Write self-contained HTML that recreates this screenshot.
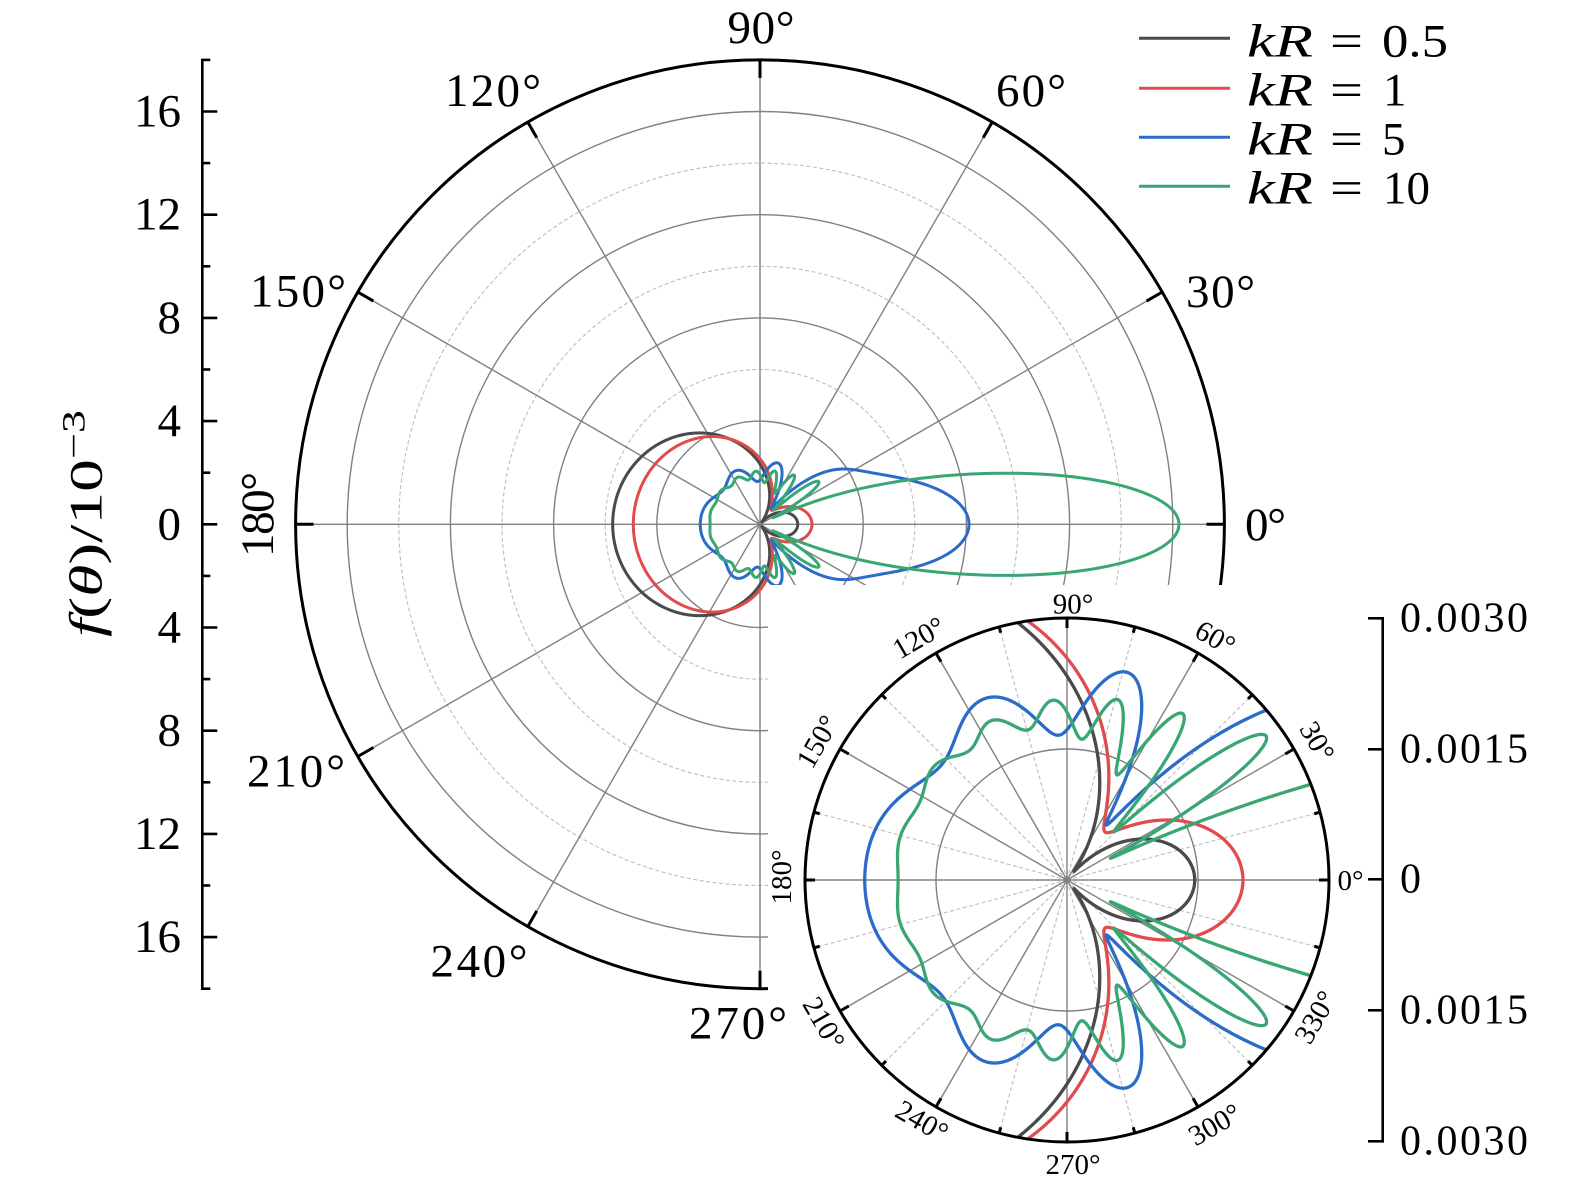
<!DOCTYPE html>
<html>
<head>
<meta charset="utf-8">
<style>
html,body{margin:0;padding:0;background:#fff;}
svg{display:block;}
text{font-family:"Liberation Serif",serif;fill:#000;}
</style>
</head>
<body>
<svg id="s" xmlns="http://www.w3.org/2000/svg" width="1575" height="1182" viewBox="0 0 1575 1182" font-family="Liberation Serif, serif">
<defs>
<clipPath id="ic"><circle cx="1067" cy="880" r="262"/></clipPath>
</defs>
<rect x="0" y="0" width="1575" height="1182" fill="#fff"/>
<g id="main"></g>
<rect x="768" y="585" width="807" height="597" fill="#fff"/>
<g id="inset"></g>

<!-- left axis -->
<g id="laxis" stroke="#000" stroke-width="2.6"></g>
<g font-size="47" text-anchor="end" dominant-baseline="central">
<text x="181" y="111.5">16</text>
<text x="181" y="214.7">12</text>
<text x="181" y="317.9">8</text>
<text x="181" y="421.1">4</text>
<text x="181" y="524.3">0</text>
<text x="181" y="627.5">4</text>
<text x="181" y="730.7">8</text>
<text x="181" y="833.9">12</text>
<text x="181" y="937.1">16</text>
</g>
<text transform="translate(101.7,523.5) rotate(-90)" font-size="47" text-anchor="middle" textLength="227" lengthAdjust="spacingAndGlyphs"><tspan font-style="italic">f</tspan>(<tspan font-style="italic">θ</tspan>)/10<tspan font-size="33" dy="-17">−3</tspan></text>

<!-- main angle labels -->
<g font-size="47" text-anchor="middle" dominant-baseline="central">
<text x="1265.5" y="525" textLength="41">0°</text>
<text x="1220.5" y="292" textLength="69">30°</text>
<text x="1031" y="91" textLength="70">60°</text>
<text x="761" y="28" textLength="67">90°</text>
<text x="493" y="91" textLength="96">120°</text>
<text x="298" y="291.5" textLength="96">150°</text>
<text x="296" y="771.5" textLength="98">210°</text>
<text x="479" y="961.5" textLength="97">240°</text>
<text x="738" y="1023.5" textLength="98">270°</text>
</g>
<text transform="translate(273,514.5) rotate(-90)" font-size="47" text-anchor="middle" textLength="85">180°</text>

<!-- inset angle labels -->
<g font-size="29" text-anchor="middle" dominant-baseline="central">
<text x="1350.5" y="881">0°</text>
<text transform="translate(1316.7,741.7) rotate(60)">30°</text>
<text transform="translate(1215,638.3) rotate(30)">60°</text>
<text x="1073" y="604.5">90°</text>
<text transform="translate(919,638.3) rotate(-30)">120°</text>
<text transform="translate(818,742) rotate(-60)">150°</text>
<text transform="translate(782,877) rotate(-90)">180°</text>
<text transform="translate(823.3,1023.3) rotate(60)">210°</text>
<text transform="translate(921.7,1121.7) rotate(30)">240°</text>
<text x="1073" y="1165">270°</text>
<text transform="translate(1215,1125) rotate(-30)">300°</text>
<text transform="translate(1316,1017.5) rotate(-60)">330°</text>
</g>

<!-- inset right axis -->
<g stroke="#000" stroke-width="2.6">
<line x1="1382.7" y1="617" x2="1382.7" y2="1142.6"/>
<line x1="1368" y1="618.3" x2="1384" y2="618.3"/>
<line x1="1368" y1="749.3" x2="1384" y2="749.3"/>
<line x1="1368" y1="879.3" x2="1384" y2="879.3"/>
<line x1="1368" y1="1010.3" x2="1384" y2="1010.3"/>
<line x1="1368" y1="1141.3" x2="1384" y2="1141.3"/>
</g>
<g font-size="42" text-anchor="start" dominant-baseline="central">
<text x="1400" y="618.3" textLength="128">0.0030</text>
<text x="1400" y="749.3" textLength="128">0.0015</text>
<text x="1400" y="879.3">0</text>
<text x="1400" y="1010.3" textLength="128">0.0015</text>
<text x="1400" y="1141.3" textLength="128">0.0030</text>
</g>

<!-- legend -->
<g stroke-width="3">
<line x1="1139" y1="38.3" x2="1230" y2="38.3" stroke="#4a4a4a"/>
<line x1="1139" y1="88.3" x2="1230" y2="88.3" stroke="#e04b4b"/>
<line x1="1139" y1="137.3" x2="1230" y2="137.3" stroke="#2a6cc8"/>
<line x1="1139" y1="186.3" x2="1230" y2="186.3" stroke="#3aa673"/>
</g>
<g font-size="47">
<text x="1247" y="56.5" font-style="italic" textLength="66" lengthAdjust="spacingAndGlyphs">kR</text>
<text x="1330" y="56.5" textLength="33" lengthAdjust="spacingAndGlyphs">=</text>
<text x="1382" y="56.5" textLength="66" lengthAdjust="spacingAndGlyphs">0.5</text>
<text x="1247" y="105.5" font-style="italic" textLength="66" lengthAdjust="spacingAndGlyphs">kR</text>
<text x="1330" y="105.5" textLength="33" lengthAdjust="spacingAndGlyphs">=</text>
<text x="1383" y="105.5">1</text>
<text x="1247" y="154.5" font-style="italic" textLength="66" lengthAdjust="spacingAndGlyphs">kR</text>
<text x="1330" y="154.5" textLength="33" lengthAdjust="spacingAndGlyphs">=</text>
<text x="1382" y="154.5">5</text>
<text x="1247" y="203.5" font-style="italic" textLength="66" lengthAdjust="spacingAndGlyphs">kR</text>
<text x="1330" y="203.5" textLength="33" lengthAdjust="spacingAndGlyphs">=</text>
<text x="1383" y="203.5">10</text>
</g>
</svg>
<script>
(function(){
var NS='http://www.w3.org/2000/svg';
function el(p,tag,a){var e=document.createElementNS(NS,tag);for(var k in a)e.setAttribute(k,a[k]);p.appendChild(e);return e;}
function patt(ka){
  var x=ka,N=Math.ceil(ka+4*Math.cbrt(ka)+3);
  var j=[Math.sin(x)/x,Math.sin(x)/(x*x)-Math.cos(x)/x];
  var y=[-Math.cos(x)/x,-Math.cos(x)/(x*x)-Math.sin(x)/x];
  for(var n=1;n<=N;n++){j[n+1]=(2*n+1)/x*j[n]-j[n-1];y[n+1]=(2*n+1)/x*y[n]-y[n-1];}
  var Ar=[],Ai=[];
  for(n=0;n<=N;n++){
    var jp,yp;
    if(n===0){jp=-j[1];yp=-y[1];}else{jp=j[n-1]-(n+1)/x*j[n];yp=y[n-1]-(n+1)/x*y[n];}
    var d=jp*jp+yp*yp;Ar[n]=-jp*jp/d;Ai[n]=jp*yp/d;
  }
  return function(t){
    var c=Math.cos(t),p0=1,p1=c,sr=Ar[0]+3*Ar[1]*c,si=Ai[0]+3*Ai[1]*c;
    for(var m=1;m<N;m++){var p2=((2*m+1)*c*p1-m*p0)/(m+1);sr+=(2*m+3)*Ar[m+1]*p2;si+=(2*m+3)*Ai[m+1]*p2;p0=p1;p1=p2;}
    return Math.sqrt(sr*sr+si*si);
  };
}
var curves=[
  {ka:0.5,col:'#4a4a4a',ref:Math.PI,val:5.71},
  {ka:1,col:'#e04b4b',ref:Math.PI,val:4.91},
  {ka:5,col:'#2a6cc8',ref:0,val:8.1},
  {ka:10,col:'#3aa673',ref:0,val:16.24}
];
var data=curves.map(function(c){
  var f=patt(c.ka),s=c.val/f(c.ref),pts=[];
  for(var i=0;i<=1440;i++){var t=i*Math.PI/720;pts.push([t,s*f(t)]);}
  return pts;
});
function path(pts,cx,cy,U){
  var d='';
  for(var i=0;i<pts.length;i++){var t=pts[i][0],r=pts[i][1]*U;
    d+=(i?'L':'M')+(cx+r*Math.cos(t)).toFixed(2)+' '+(cy-r*Math.sin(t)).toFixed(2);}
  return d+'Z';
}
// MAIN
var g=document.getElementById('main');
var cx=760,cy=524.3,U=25.8,R=464.4;
[6,10,14].forEach(function(r){el(g,'circle',{cx:cx,cy:cy,r:r*U,fill:'none',stroke:'#bdbdbd','stroke-width':1.1,'stroke-dasharray':'4 2.5'});});
[4,8,12,16].forEach(function(r){el(g,'circle',{cx:cx,cy:cy,r:r*U,fill:'none',stroke:'#808080','stroke-width':1.4});});
for(var a=0;a<360;a+=30){var t=a*Math.PI/180;el(g,'line',{x1:cx,y1:cy,x2:cx+R*Math.cos(t),y2:cy-R*Math.sin(t),stroke:'#808080','stroke-width':1.4});}
data.forEach(function(p,k){el(g,'path',{d:path(p,cx,cy,U),fill:'none',stroke:curves[k].col,'stroke-width':3,'stroke-linejoin':'round'});});
el(g,'circle',{cx:cx,cy:cy,r:R,fill:'none',stroke:'#000','stroke-width':3});
for(a=0;a<360;a+=30){t=a*Math.PI/180;el(g,'line',{x1:cx+R*Math.cos(t),y1:cy-R*Math.sin(t),x2:cx+(R-18)*Math.cos(t),y2:cy-(R-18)*Math.sin(t),stroke:'#000','stroke-width':3});}
// INSET
var h=document.getElementById('inset');
var icx=1067,icy=880,IR=262,IU=IR/3;
for(a=15;a<360;a+=30){t=a*Math.PI/180;el(h,'line',{x1:icx,y1:icy,x2:icx+IR*Math.cos(t),y2:icy-IR*Math.sin(t),stroke:'#bdbdbd','stroke-width':1.1,'stroke-dasharray':'4 2.5'});}
el(h,'circle',{cx:icx,cy:icy,r:1.5*IU,fill:'none',stroke:'#808080','stroke-width':1.4});
for(a=0;a<360;a+=30){t=a*Math.PI/180;el(h,'line',{x1:icx,y1:icy,x2:icx+IR*Math.cos(t),y2:icy-IR*Math.sin(t),stroke:'#808080','stroke-width':1.4});}
var cg=el(h,'g',{'clip-path':'url(#ic)'});
data.forEach(function(p,k){el(cg,'path',{d:path(p,icx,icy,IU),fill:'none',stroke:curves[k].col,'stroke-width':3.3,'stroke-linejoin':'round'});});
el(h,'circle',{cx:icx,cy:icy,r:IR,fill:'none',stroke:'#000','stroke-width':3});
for(a=0;a<360;a+=15){t=a*Math.PI/180;var L=(a%30===0)?10:6;
  el(h,'line',{x1:icx+IR*Math.cos(t),y1:icy-IR*Math.sin(t),x2:icx+(IR-L)*Math.cos(t),y2:icy-(IR-L)*Math.sin(t),stroke:'#000','stroke-width':3});}
// LEFT AXIS
var la=document.getElementById('laxis');
var ax=202.3;
el(la,'line',{x1:ax,y1:59.9,x2:ax,y2:988.7});
for(var v=-18;v<=18;v+=2){var yy=cy-v*U;var len=(v%4===0)?15:8;el(la,'line',{x1:ax-1.3,y1:yy,x2:ax+len,y2:yy});}
})();
</script>
</body>
</html>
